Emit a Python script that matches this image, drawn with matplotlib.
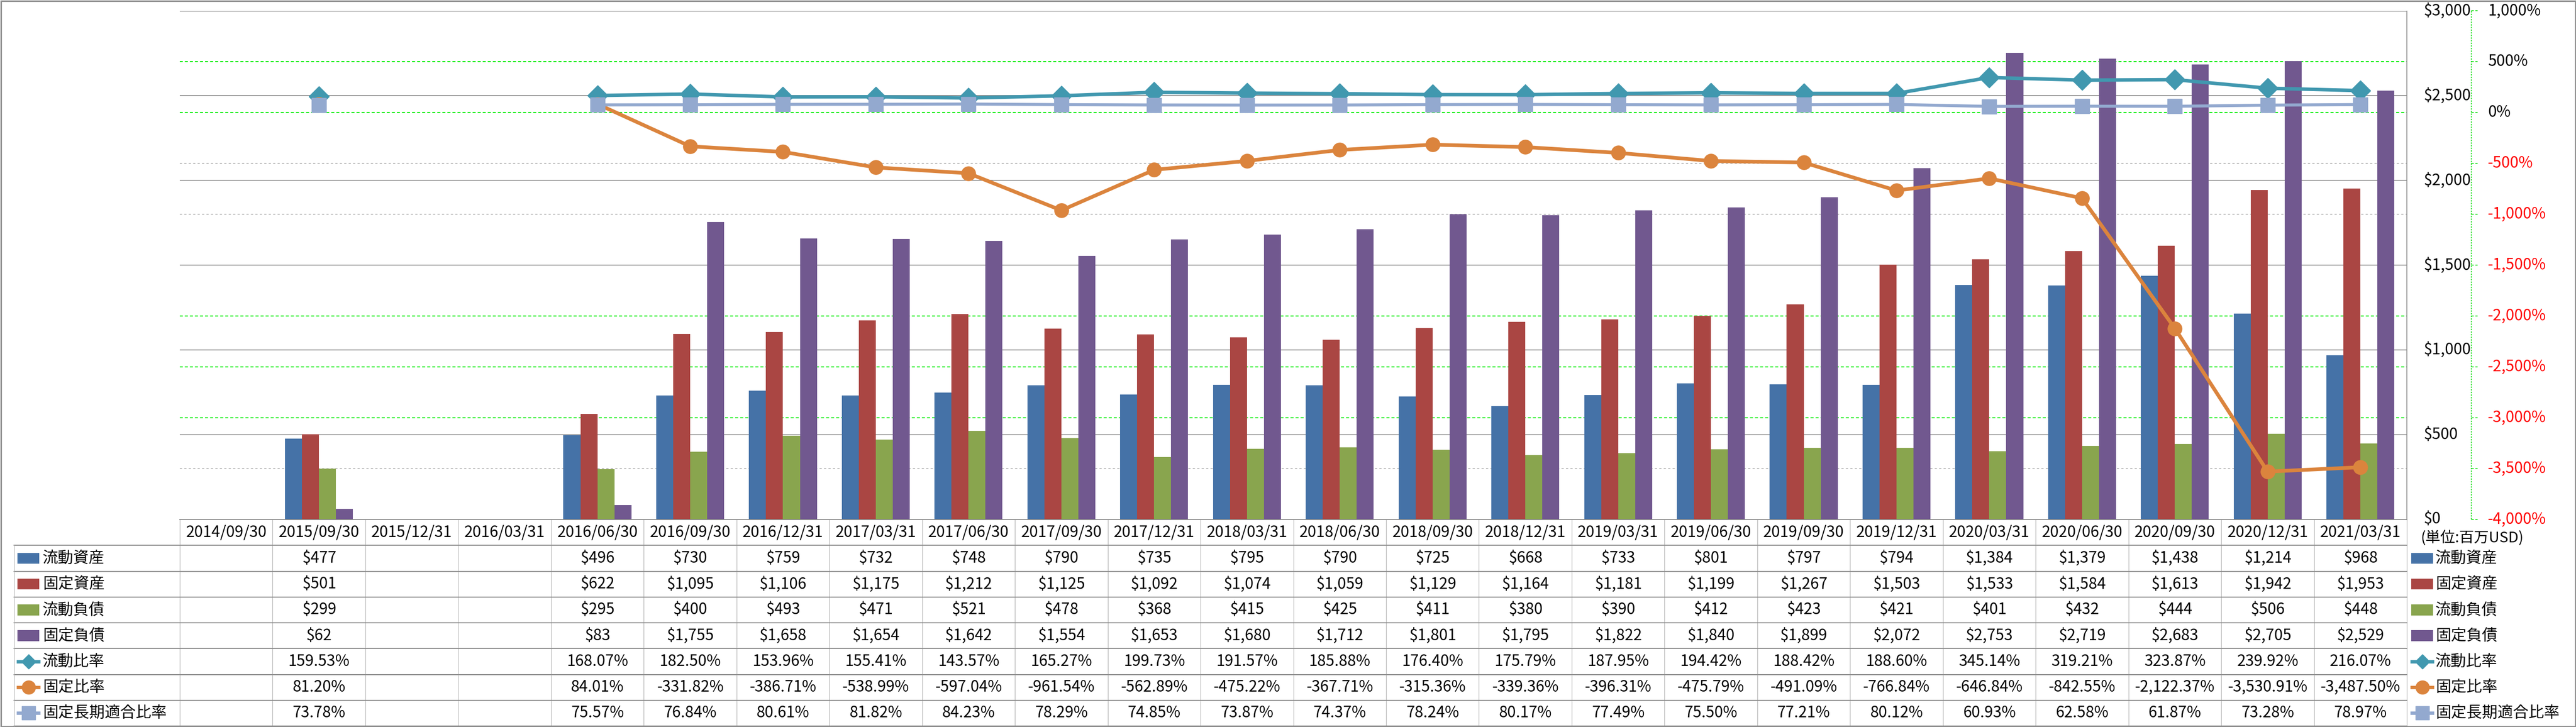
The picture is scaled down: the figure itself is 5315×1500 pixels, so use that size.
import numpy as np
import matplotlib
matplotlib.use('Agg')
import matplotlib.pyplot as plt
from matplotlib.transforms import blended_transform_factory as blend
from matplotlib.patches import Rectangle

plt.rcParams['font.family'] = ['Noto Sans CJK JP', 'DejaVu Sans']

nan = np.nan

dates = ['2014/09/30', '2015/09/30', '2015/12/31', '2016/03/31', '2016/06/30', '2016/09/30',
         '2016/12/31', '2017/03/31', '2017/06/30', '2017/09/30', '2017/12/31', '2018/03/31',
         '2018/06/30', '2018/09/30', '2018/12/31', '2019/03/31', '2019/06/30', '2019/09/30',
         '2019/12/31', '2020/03/31', '2020/06/30', '2020/09/30', '2020/12/31', '2021/03/31']

current_assets = [nan, 477, nan, nan, 496, 730, 759, 732, 748, 790, 735, 795,
                  790, 725, 668, 733, 801, 797, 794, 1384, 1379, 1438, 1214, 968]
fixed_assets = [nan, 501, nan, nan, 622, 1095, 1106, 1175, 1212, 1125, 1092, 1074,
                1059, 1129, 1164, 1181, 1199, 1267, 1503, 1533, 1584, 1613, 1942, 1953]
current_liab = [nan, 299, nan, nan, 295, 400, 493, 471, 521, 478, 368, 415,
                425, 411, 380, 390, 412, 423, 421, 401, 432, 444, 506, 448]
fixed_liab = [nan, 62, nan, nan, 83, 1755, 1658, 1654, 1642, 1554, 1653, 1680,
              1712, 1801, 1795, 1822, 1840, 1899, 2072, 2753, 2719, 2683, 2705, 2529]

current_ratio = [nan, 159.53, nan, nan, 168.07, 182.50, 153.96, 155.41, 143.57, 165.27, 199.73, 191.57,
                 185.88, 176.40, 175.79, 187.95, 194.42, 188.42, 188.60, 345.14, 319.21, 323.87, 239.92, 216.07]
fixed_ratio = [nan, 81.20, nan, nan, 84.01, -331.82, -386.71, -538.99, -597.04, -961.54, -562.89, -475.22,
               -367.71, -315.36, -339.36, -396.31, -475.79, -491.09, -766.84, -646.84, -842.55,
               -2122.37, -3530.91, -3487.50]
fixed_lt_ratio = [nan, 73.78, nan, nan, 75.57, 76.84, 80.61, 81.82, 84.23, 78.29, 74.85, 73.87,
                  74.37, 78.24, 80.17, 77.49, 75.50, 77.21, 80.12, 60.93, 62.58, 61.87, 73.28, 78.97]

bar_names = ['流動資産', '固定資産', '流動負債', '固定負債']
line_names = ['流動比率', '固定比率', '固定長期適合比率']
bar_colors = ['#4572A7', '#AA4643', '#89A54E', '#71588F']
line_colors = ['#4198AF', '#DB843D', '#93A9CF']
line_markers = ['D', 'o', 's']

usd_ticks = [0, 500, 1000, 1500, 2000, 2500, 3000]
pct_ticks = [-4000, -3500, -3000, -2500, -2000, -1500, -1000, -500, 0, 500, 1000]
pct_grid_green = [500, 0, -2000, -2500, -3000]
pct_grid_gray = [-500, -1000, -3500]

# layout in pixels
W, H = 5315, 1500
pl, pr, pt, pb = 371, 4966, 22.5, 1071.5
tt, tb = 1072, 1498

fig = plt.figure(figsize=(W / 100, H / 100), dpi=100)
ax = fig.add_axes([pl / W, 1 - pb / H, (pr - pl) / W, (pb - pt) / H])
ax2 = ax.twinx()
tab = fig.add_axes([pl / W, 1 - tb / H, (pr - pl) / W, (tb - tt) / H])
ov = fig.add_axes([0, 0, 1, 1])
ov.set_xlim(0, W)
ov.set_ylim(H, 0)
ov.axis('off')
ov.patch.set_visible(False)

n = len(dates)
x = np.arange(n)
ax.set_xlim(-0.5, n - 0.5)
ax.set_ylim(0, 3000)
ax2.set_ylim(-4000, 1000)

# gridlines
for v in usd_ticks[1:]:
    ax.axhline(v, color='#808080', lw=1.2, zorder=0.6)
pct_tr = blend(ax.transAxes, ax2.transData)
for p in pct_grid_green:
    ax.plot([0, 1], [p, p], transform=pct_tr, color='#00ee00', lw=1.5,
            ls=(0, (3, 2)), zorder=0.5)
for p in pct_grid_gray:
    ax.plot([0, 1], [p, p], transform=pct_tr, color='#a0a0a0', lw=1.1,
            ls=(0, (3, 3)), zorder=0.5)

# bars
bw = 0.183
series = [current_assets, fixed_assets, current_liab, fixed_liab]
for k, vals in enumerate(series):
    ax.bar(x + (k - 1.5) * bw, vals, width=bw, color=bar_colors[k], zorder=2)

# lines
ratios = [current_ratio, fixed_ratio, fixed_lt_ratio]
lws = [5.2, 5.5, 4.5]
for k, vals in enumerate(ratios):
    ax2.plot(x, vals, color=line_colors[k], lw=lws[k], marker=line_markers[k],
             markersize=21, markeredgecolor=line_colors[k], zorder=3 + k)

for a in (ax, ax2):
    a.tick_params(left=False, right=False, bottom=False,
                  labelleft=False, labelright=False, labelbottom=False)
    for s in a.spines.values():
        s.set_visible(False)
ax.spines['right'].set_visible(True)
ax.spines['right'].set_color('#8c8c8c')
ax.spines['right'].set_linewidth(1.2)

# right-side axis labels
fs = 23
tr_usd = blend(ov.transData, ax.transData)
for v in usd_ticks:
    ov.text(5000, v, f'${v:,}', transform=tr_usd, ha='left', va='center', fontsize=fs)
tr_pct = blend(ov.transData, ax2.transData)
for p in pct_ticks:
    ov.text(5133, p, f'{p:,}%', transform=tr_pct, ha='left', va='center', fontsize=fs,
            color='#ff0000' if p < 0 else 'black')
    ov.plot([5099, 5112], [p, p], transform=tr_pct, color='#00dd00', lw=1.2, ls=(0, (3, 2)))
ov.plot([5099, 5099], [pt, pb], color='#00dd00', lw=1.3, ls=(0, (1.5, 1.5)))
ov.text(4994, 1110, '(単位:百万USD)', ha='left', va='center', fontsize=22)

# data table
nrows = 1 + len(bar_names) + len(line_names)
tab.set_xlim(-0.5, n - 0.5)
tab.set_ylim(nrows, 0)
tab.axis('off')
tr_row = blend(ov.transData, tab.transData)

for i, d in enumerate(dates):
    tab.text(i, 0.5, d, ha='center', va='center', fontsize=fs)


def money(v):
    return '' if np.isnan(v) else f'${v:,.0f}'


def pct(v):
    return '' if np.isnan(v) else f'{v:,.2f}%'


rows = [(bar_names[k], series[k], money) for k in range(4)] + \
       [(line_names[k], ratios[k], pct) for k in range(3)]
for r, (name, vals, fmt) in enumerate(rows, start=1):
    for i, v in enumerate(vals):
        tab.text(i, r + 0.5, fmt(v), ha='center', va='center', fontsize=fs)
    # row label with key, and the legend entry at the right
    for kx, tx in ((36, 88), (4975, 5025)):
        ov.text(tx, r + 0.5, name, transform=tr_row, ha='left', va='center', fontsize=fs)
        if r <= 4:
            ov.add_patch(Rectangle((kx, r + 0.5 - 0.21), 45, 0.42, transform=tr_row,
                                   color=bar_colors[r - 1], lw=0))
        else:
            k = r - 5
            ov.plot([kx - 2, kx + 47], [r + 0.5, r + 0.5], transform=tr_row,
                    color=line_colors[k], lw=5, solid_capstyle='butt')
            ov.plot([kx + 22.5], [r + 0.5], transform=tr_row, color=line_colors[k],
                    marker=line_markers[k], markersize=15 if k == 0 else 20,
                    markeredgecolor=line_colors[k])

# table grid
for r in range(0, nrows + 1):
    x0 = pl if r == 0 else 29
    ov.plot([x0, pr], [r, r], transform=tr_row, color='#8c8c8c', lw=1.5)
for i in range(n + 1):
    tab.plot([i - 0.5, i - 0.5], [0, nrows], color='#b4b4b4', lw=0.9, clip_on=False)
ov.plot([29, 29], [1, nrows], transform=tr_row, color='#b4b4b4', lw=0.9)

ov.add_patch(Rectangle((1.5, 1.5), W - 3, H - 3, fill=False, ec='#8c8c8c', lw=2.2))

fig.savefig('out.png', dpi=100)
